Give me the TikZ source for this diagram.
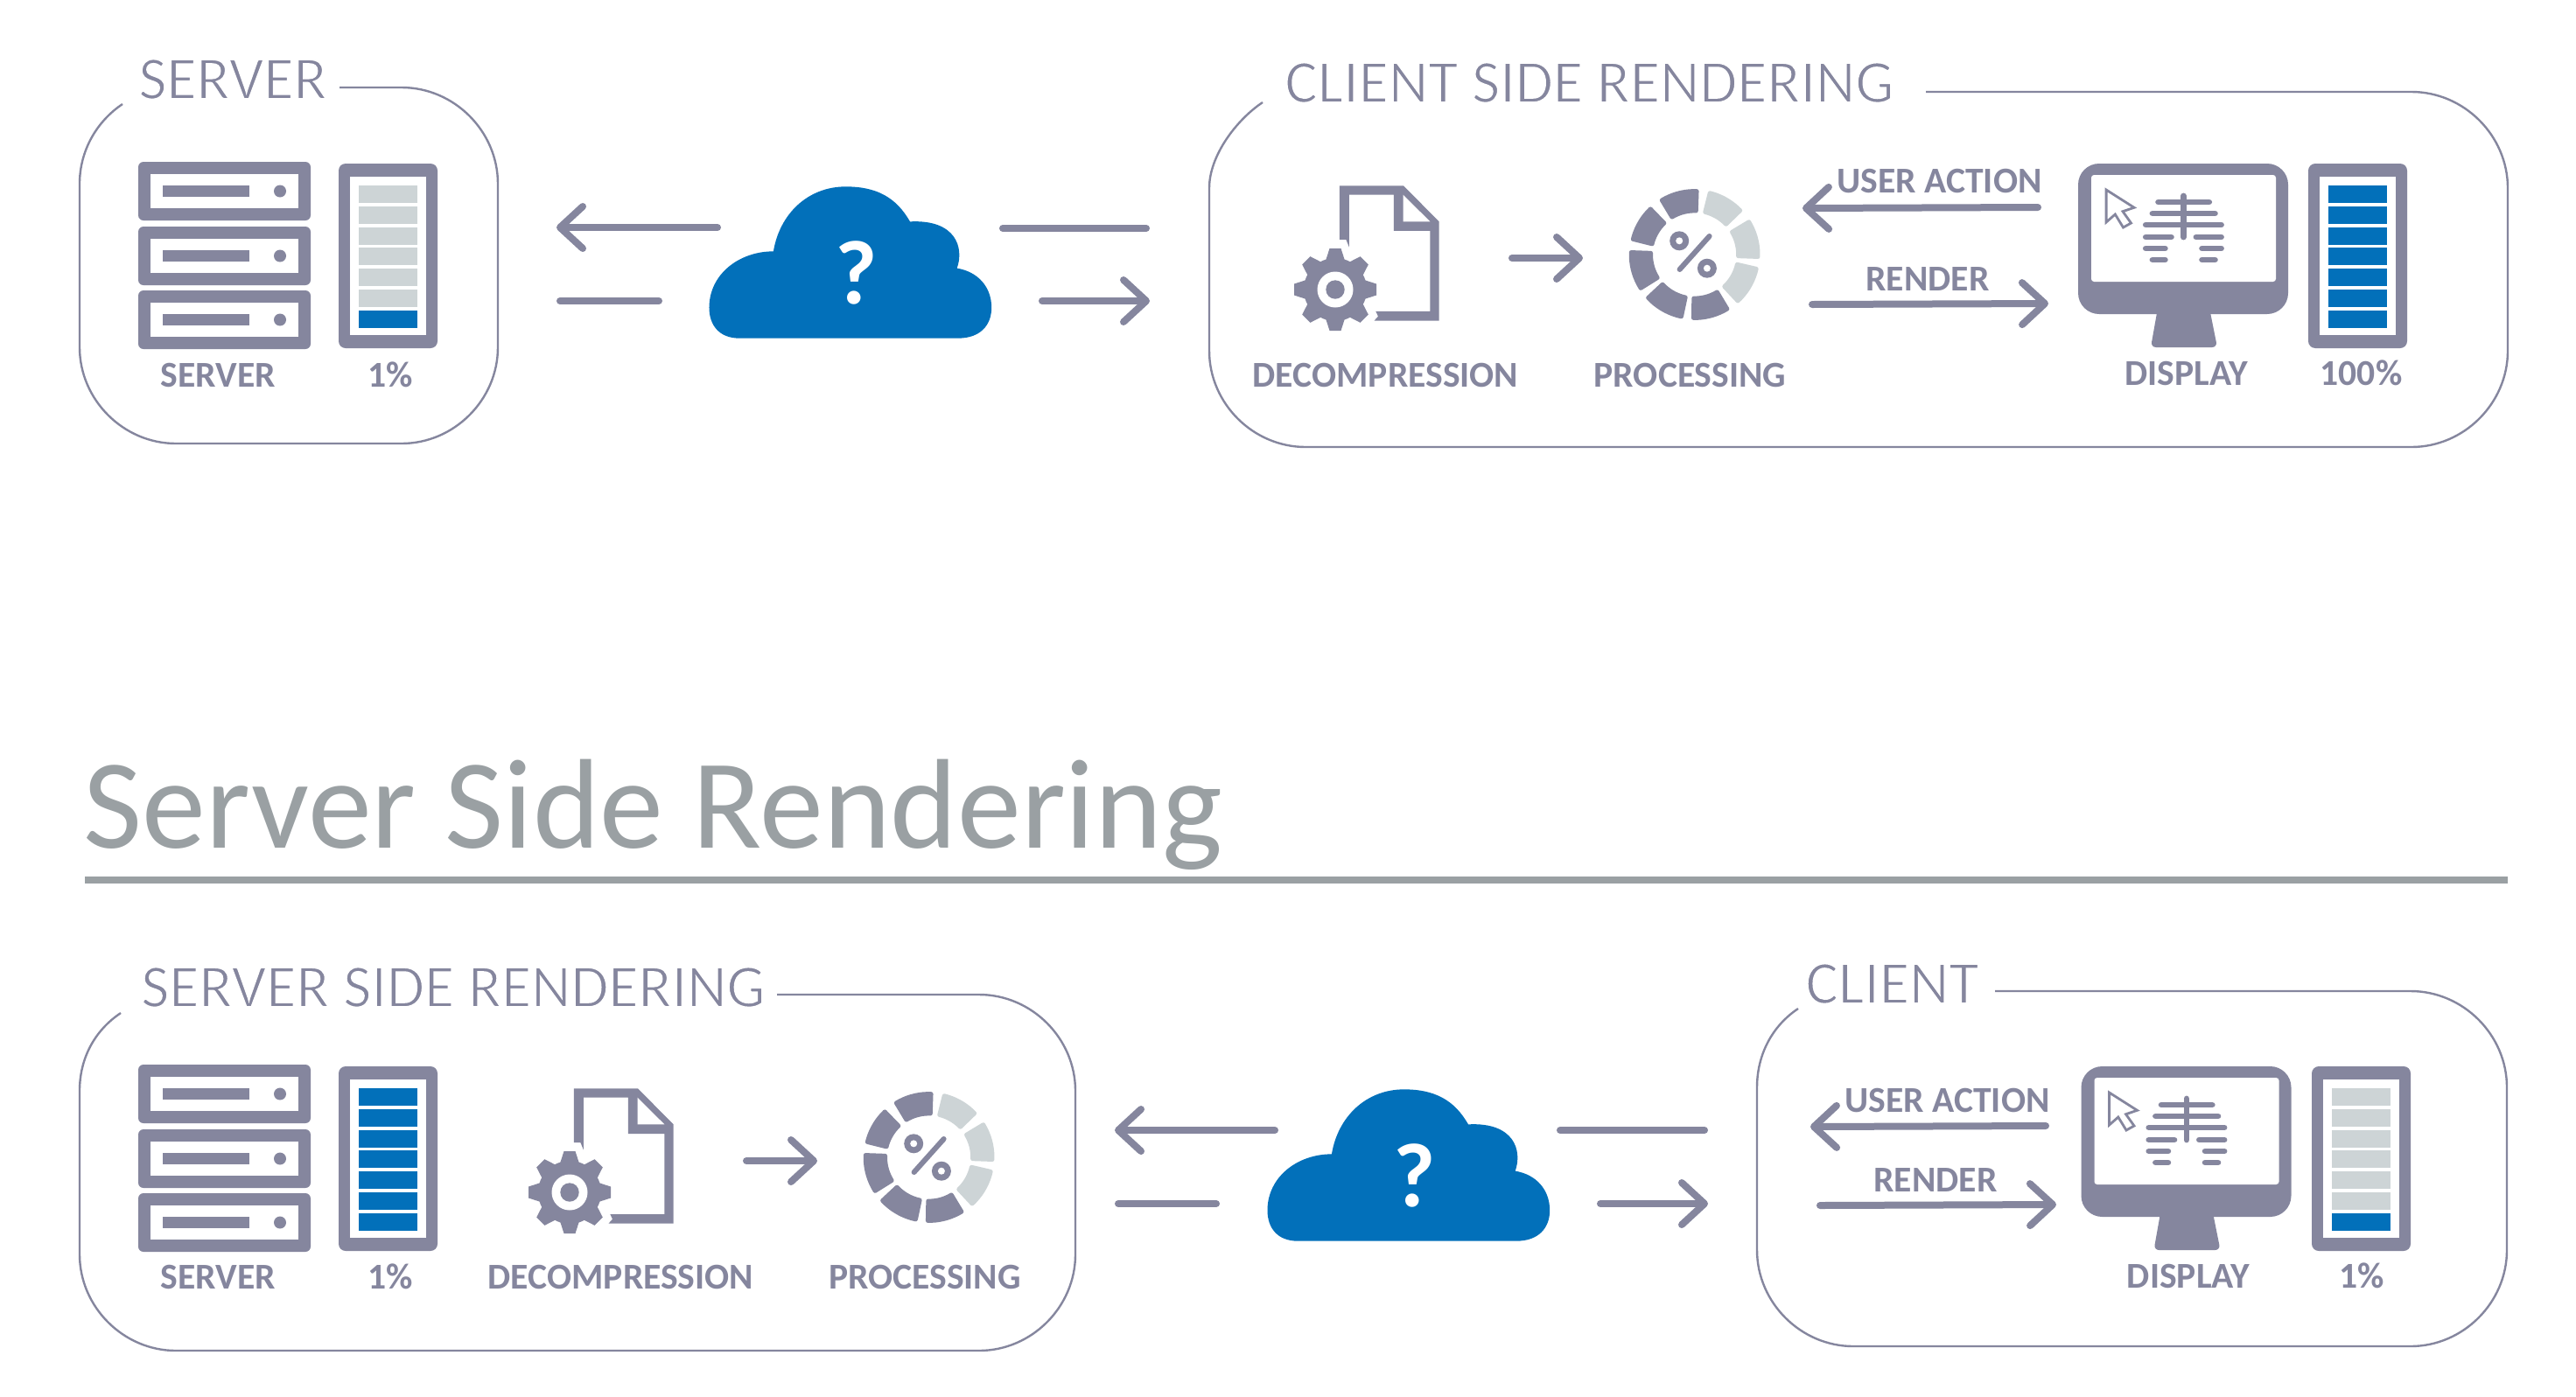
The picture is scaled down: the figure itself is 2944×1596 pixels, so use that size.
\documentclass[tikz,border=0pt]{standalone}
\usepackage{fontspec}
\setmainfont{Carlito}
\usetikzlibrary{arrows.meta}
\definecolor{ink}{HTML}{85869E}
\definecolor{cellgray}{HTML}{CDD4D6}
\definecolor{cellblue}{HTML}{0270BA}
\definecolor{heading}{HTML}{9AA0A3}
\newcommand{\thintext}[1]{\special{pdf:code 2 Tr 0.4 w 1 1 1 RG}#1\special{pdf:code 0 Tr}}
\tikzset{
  panelline/.style={draw=ink,line width=0.6pt},
  flow/.style={draw=ink,line width=2pt,line cap=round,-{Straight Barb[length=6.5pt,width=12pt,round]}},
  flowdash/.style={draw=ink,line width=2pt,line cap=round},
  lbl/.style={text=ink,inner sep=0pt,anchor=base,font=\fontsize{10.4}{12}\selectfont\bfseries},
  paneltitle/.style={text=ink,inner sep=0pt,anchor=base,font=\fontsize{17.5}{20}\selectfont},
  bone/.style={draw=ink,line width=1.7pt,line cap=round},
}
% L R T B startx endx endy
\newcommand{\panelbox}[7]{
  \draw[panelline] (#5,#3) -- ({#2-110},#3)
    .. controls ({#2-50},#3) and (#2,{#3+50}) .. (#2,{#3+110})
    -- (#2,{#4-110})
    .. controls (#2,{#4-50}) and ({#2-50},#4) .. ({#2-110},#4)
    -- ({#1+110},#4)
    .. controls ({#1+50},#4) and (#1,{#4-50}) .. (#1,{#4-110})
    -- (#1,{#3+110})
    .. controls (#1,{#3+73}) and ({#6-30},{#7+20}) .. (#6,#7);
}
% rack at offset dy
\newcommand{\rackicon}[1]{
  \begin{scope}[shift={(0,#1)}]
  \foreach \y in {185,259,332}{
    \fill[ink,rounded corners=1.5pt] (158,\y) rectangle +(197,67);
    \fill[white] (172,{\y+14}) rectangle +(169,39);
    \fill[ink] (186,{\y+27}) rectangle +(99,13);
    \fill[ink] (320,{\y+33.5}) circle[radius=7];
  }
  \end{scope}
}
% x y number-of-gray-cells
\newcommand{\gaugebar}[3]{
  \begin{scope}[shift={(#1,#2)}]
  \fill[ink,rounded corners=2pt] (0,0) rectangle (113,211);
  \fill[white] (13,15) rectangle (100,196);
  \foreach \o [count=\i] in {25,49,73,96,120,144,168}{
    \ifnum\i>#3\relax
      \fill[cellblue] (23,\o) rectangle +(67,20);
    \else
      \fill[cellgray] (23,\o) rectangle +(67,20);
    \fi
  }
  \end{scope}
}
\newcommand{\docicon}[2]{
  \begin{scope}[shift={({1400+#1},{150+#2})},xscale=0.4464,yscale=0.3333]
  \fill[ink] (293,187) -- (457,187) -- (548,310) -- (548,650) -- (382,650) -- (392,635) -- (386,618)
    -- (525,618) -- (525,342) -- (432,342) -- (432,218) -- (318,218) -- (318,398) -- (310,372) -- (293,372) -- cycle;
  \fill[white] (456,218) -- (525,310) -- (456,310) -- cycle;
  \end{scope}
  \begin{scope}[shift={({1526+#1},{331+#2})}]
  \fill[ink] (0,0) circle[radius=36];
  \foreach \a in {0,45,...,315}{
    \fill[ink,rotate=\a] (-11,-33) -- (-6.5,-47) -- (6.5,-47) -- (11,-33) -- cycle;
  }
  \fill[white] (0,0) circle[radius=20.5];
  \fill[ink] (0,0) circle[radius=10.7];
  \end{scope}
}
\newcommand{\ringseg}[3]{
  \filldraw[#1,line width=1.2pt,line join=round]
    plot[domain=#2:#3,samples=10] (\x:72.5) -- plot[domain=#3:#2,samples=10] (\x:50) -- cycle;
}
\newcommand{\ringicon}[2]{
  \begin{scope}[shift={({1936.6+#1},{291+#2})},yscale=-1]
  \ringseg{cellgray}{76}{44}
  \ringseg{cellgray}{31}{-2}
  \ringseg{cellgray}{-13}{-47}
  \ringseg{ink}{-59}{-91}
  \ringseg{ink}{-102}{-137}
  \ringseg{ink}{-148}{-182}
  \ringseg{ink}{166}{134}
  \ringseg{ink}{121}{88}
  \draw[ink,line width=1.5pt,line cap=round] (17,21) -- (-17,-17);
  \fill[ink] (-17.4,15.7) circle[radius=11];
  \fill[white] (-17.4,15.7) circle[radius=4];
  \fill[ink] (14.3,-15.7) circle[radius=11];
  \fill[white] (14.3,-15.7) circle[radius=4];
  \end{scope}
}
\newcommand{\monitoricon}[2]{
  \begin{scope}[shift={(#1,#2)}]
  \fill[ink,rounded corners=6pt] (0,0) rectangle (240,172);
  \fill[ink,rounded corners=1.5pt] (91,165) -- (83,210) -- (159,210) -- (150,165) -- cycle;
  \fill[white,rounded corners=0.8pt] (15,13) rectangle (226,135);
  \draw[ink,fill=white,line width=0.7pt,line join=miter] (32.1,30) -- (64,50.3) -- (51,54.7) -- (60.5,68) -- (51.5,73) -- (42.3,58) -- (32.1,67) -- cycle;
  \draw[bone] (120.4,37) -- (120.4,84);
  \draw[bone] (91.6,44) -- (149.7,44);
  \draw[bone] (85,57) -- (156.4,57);
  \draw[bone] (77.3,70) -- (163.5,70);
  \draw[bone] (77.3,84) -- (106.4,84);
  \draw[bone] (134.9,84) -- (163.5,84);
  \draw[bone] (77.3,97) -- (99.3,97);
  \draw[bone] (141.6,97) -- (163.5,97);
  \draw[bone] (85,110) -- (99.3,110);
  \draw[bone] (141.6,110) -- (156.4,110);
  \end{scope}
}
\newcommand{\cloudicon}[3]{
  \begin{scope}[shift={({620+#1},{180+#2})},xscale=0.459,yscale=0.3333]
  \fill[cellblue] (490,620) -- (1035,620)
    .. controls (1090,620) and (1118,575) .. (1118,515)
    .. controls (1118,445) and (1085,392) .. (1032,380)
    .. controls (1050,310) and (1030,212) .. (915,220)
    .. controls (880,135) and (830,100) .. (755,100)
    .. controls (660,100) and (590,195) .. (575,322)
    .. controls (490,322) and (415,400) .. (415,515)
    .. controls (415,575) and (440,620) .. (490,620) -- cycle;
  \end{scope}
  \node (#3) [inner sep=0pt,anchor=base,text=white,font=\fontsize{26}{30}\selectfont\bfseries] at ({978.5+#1},{347+#2}) {?};
}
\begin{document}
\begin{tikzpicture}[x=0.25pt,y=-0.25pt]
\useasboundingbox (0,0) rectangle (2944,1596);
\fill[white] (0,0) rectangle (2944,1596);

% ---- panels
\panelbox{91}{569}{100}{507}{388}{140}{119}
\panelbox{1382}{2866}{105}{511}{2201}{1443}{117}
\panelbox{91}{1229}{1137}{1544}{888}{138}{1158}
\panelbox{2008}{2865}{1133}{1539}{2280}{2055}{1153}

% ---- top left
\node (t1) [paneltitle] at (266,113) {\thintext{SERVER}};
\rackicon{0}
\gaugebar{387}{187}{6}
\node (l1) [lbl] at (249.5,442) {SERVER};
\node (l2) [lbl] at (446.5,442) {1\%};

% ---- top cloud
\cloudicon{0}{0}{q1}
\coordinate (a1t) at (820,260); \coordinate (a1h) at (636,260);
\coordinate (a2t) at (640,344); \coordinate (a2h) at (753,344);
\coordinate (a3t) at (1146,261); \coordinate (a3h) at (1310,261);
\coordinate (a4t) at (1191,344); \coordinate (a4h) at (1314,344);
\draw[flow] (a1t) -- (a1h);
\draw[flowdash] (a2t) -- (a2h);
\draw[flowdash] (a3t) -- (a3h);
\draw[flow] (a4t) -- (a4h);

% ---- top right
\node (t2) [paneltitle] at (1816.5,117) {\thintext{CLIENT SIDE RENDERING}};
\docicon{0}{0}
\coordinate (a5t) at (1728,295); \coordinate (a5h) at (1809,295);
\draw[flow] (a5t) -- (a5h);
\ringicon{0}{0}
\node (l3) [lbl] at (1583.5,442) {DECOMPRESSION};
\node (l4) [lbl] at (1931.5,442) {PROCESSING};
\node (l5) [lbl] at (2216.5,220) {USER ACTION};
\node (l6) [lbl] at (2203,332) {RENDER};
\coordinate (a6t) at (2329,237); \coordinate (a6h) at (2060,238);
\coordinate (a7t) at (2071,348); \coordinate (a7h) at (2341,347);
\draw[flow] (a6t) -- (a6h);
\draw[flow] (a7t) -- (a7h);
\monitoricon{2375}{187}
\gaugebar{2638}{187}{0}
\node (l7) [lbl] at (2498.5,440) {DISPLAY};
\node (l8) [lbl] at (2698.5,440) {100\%};

% ---- heading
\node (h) [inner sep=0pt,anchor=base,text=heading,font=\fontsize{36.5}{40}\selectfont] at (746,969) {Server Side Rendering};
\coordinate (r1) at (97,1006); \coordinate (r2) at (2866,1006);
\draw[heading,line width=2pt] (r1) -- (r2);

% ---- bottom left
\node (t3) [paneltitle] at (518,1151) {\thintext{SERVER SIDE RENDERING}};
\rackicon{1032}
\gaugebar{387}{1219}{0}
\node (l9) [lbl] at (249.5,1473) {SERVER};
\node (l10) [lbl] at (446.5,1473) {1\%};
\docicon{-875}{1032}
\coordinate (b5t) at (853,1327); \coordinate (b5h) at (934,1327);
\draw[flow] (b5t) -- (b5h);
\ringicon{-875}{1032}
\node (l11) [lbl] at (709.5,1473) {DECOMPRESSION};
\node (l12) [lbl] at (1057,1473) {PROCESSING};

% ---- bottom cloud
\cloudicon{638}{1032}{q2}
\coordinate (b1t) at (1457,1292); \coordinate (b1h) at (1274,1292);
\coordinate (b2t) at (1278,1376); \coordinate (b2h) at (1390,1376);
\coordinate (b3t) at (1783,1292); \coordinate (b3h) at (1948,1292);
\coordinate (b4t) at (1829,1376); \coordinate (b4h) at (1952,1376);
\draw[flow] (b1t) -- (b1h);
\draw[flowdash] (b2t) -- (b2h);
\draw[flowdash] (b3t) -- (b3h);
\draw[flow] (b4t) -- (b4h);

% ---- bottom right
\node (t4) [paneltitle] at (2162.5,1147) {\thintext{CLIENT}};
\node (l13) [lbl] at (2225.5,1271) {USER ACTION};
\node (l14) [lbl] at (2212,1362) {RENDER};
\coordinate (b6t) at (2338,1287); \coordinate (b6h) at (2069,1288);
\coordinate (b7t) at (2080,1378); \coordinate (b7h) at (2350,1377);
\draw[flow] (b6t) -- (b6h);
\draw[flow] (b7t) -- (b7h);
\monitoricon{2378.5}{1219}
\gaugebar{2642}{1219}{6}
\node (l15) [lbl] at (2501,1472) {DISPLAY};
\node (l16) [lbl] at (2699,1472) {1\%};
\end{tikzpicture}
\end{document}
